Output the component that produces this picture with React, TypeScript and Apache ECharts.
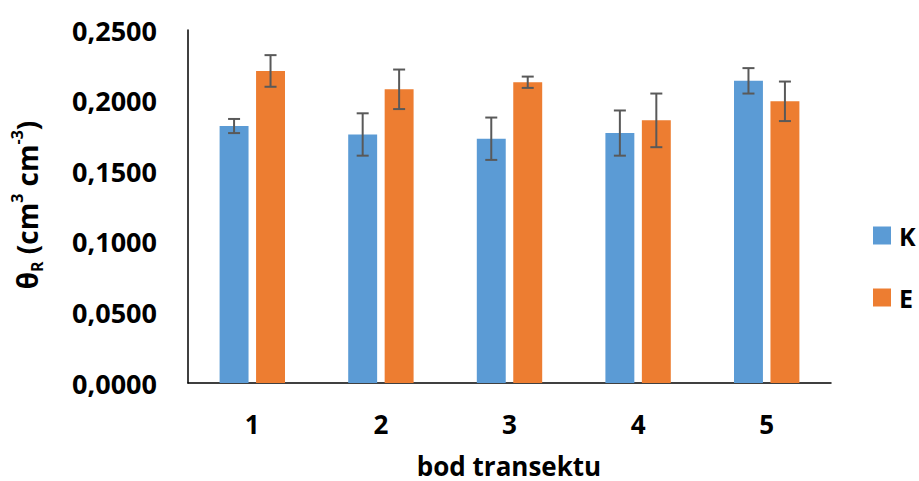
import React, { useEffect, useRef } from "react";
import * as echarts from "echarts";

// Transect points and residual water content (θR) with standard deviations
const categories = ["1", "2", "3", "4", "5"];
const seriesNames = ["K", "E"];
const valuesK = [0.182, 0.176, 0.173, 0.177, 0.214];
const valuesE = [0.221, 0.208, 0.213, 0.186, 0.1995];
const errorsK = [0.005, 0.015, 0.015, 0.016, 0.009];
const errorsE = [0.0112, 0.014, 0.004, 0.019, 0.014];
const yTicks = { min: 0, max: 0.25, interval: 0.05 };

const FONT = "'Open Sans', sans-serif";
const BLUE = "#5B9BD5";
const ORANGE = "#ED7D31";
const BAR_WIDTH = 0.225; // share of the category band
const BAR_GAP = 0.26; // share of one bar width

function errorBarSeries(values: number[], errors: number[], side: number) {
  return {
    type: "custom",
    name: "err" + side,
    silent: true,
    z: 5,
    encode: { x: 0, y: 1 },
    data: values.map((v, i) => [i, v, errors[i]]),
    renderItem: (params: any, api: any) => {
      const idx = api.value(0);
      const val = api.value(1);
      const err = api.value(2);
      const band = api.size([1, 0])[0];
      const w = band * BAR_WIDTH;
      const offset = side * (w * (1 + BAR_GAP)) / 2;
      const top = api.coord([idx, val + err]);
      const bottom = api.coord([idx, val - err]);
      const x = top[0] + offset;
      const cap = 6;
      const style = { stroke: "#595959", lineWidth: 2 };
      return {
        type: "group",
        children: [
          { type: "line", shape: { x1: x, y1: top[1], x2: x, y2: bottom[1] }, style },
          { type: "line", shape: { x1: x - cap, y1: top[1], x2: x + cap, y2: top[1] }, style },
          { type: "line", shape: { x1: x - cap, y1: bottom[1], x2: x + cap, y2: bottom[1] }, style },
        ],
      };
    },
  };
}

export default function App() {
  const ref = useRef<HTMLDivElement>(null);

  useEffect(() => {
    if (!ref.current) return;
    const chart = echarts.init(ref.current, null, { renderer: "svg" });
    chart.setOption({
      animation: false,
      backgroundColor: "#ffffff",
      grid: { left: 188, right: 88, top: 30, bottom: 98, containLabel: false },
      legend: {
        data: seriesNames,
        orient: "vertical",
        left: 873,
        top: 223,
        padding: 0,
        itemWidth: 18,
        itemHeight: 18,
        itemGap: 37,
        icon: "rect",
        selectedMode: false,
        textStyle: {
          fontFamily: FONT,
          fontWeight: "bold",
          fontSize: 25,
          color: "#000",
          lineHeight: 18,
          padding: [0, 0, 0, 3],
        },
      },
      xAxis: {
        type: "category",
        data: categories,
        axisLine: { show: true, lineStyle: { color: "#000", width: 1.5 } },
        axisTick: { show: false },
        axisLabel: {
          margin: 28,
          fontFamily: FONT,
          fontWeight: "bold",
          fontSize: 26,
          color: "#000",
        },
        splitLine: { show: false },
      },
      yAxis: {
        type: "value",
        min: yTicks.min,
        max: yTicks.max,
        interval: yTicks.interval,
        axisLine: { show: true, lineStyle: { color: "#000", width: 1.5 } },
        axisTick: { show: false },
        splitLine: { show: false },
        axisLabel: {
          margin: 31,
          fontFamily: FONT,
          fontWeight: "bold",
          fontSize: 27,
          color: "#000",
          formatter: (v: number) => v.toFixed(4).replace(".", ","),
        },
      },
      series: [
        {
          name: "K",
          type: "bar",
          data: valuesK,
          barWidth: BAR_WIDTH * 100 + "%",
          barGap: BAR_GAP * 100 + "%",
          itemStyle: { color: BLUE },
        },
        {
          name: "E",
          type: "bar",
          data: valuesE,
          barWidth: BAR_WIDTH * 100 + "%",
          barGap: BAR_GAP * 100 + "%",
          itemStyle: { color: ORANGE },
        },
        errorBarSeries(valuesK, errorsK, -1),
        errorBarSeries(valuesE, errorsE, 1),
      ],
      graphic: [
        {
          type: "text",
          x: 27,
          y: 205,
          rotation: Math.PI / 2,
          style: {
            text: "{a|θ}{sub|R}{a| (cm}{sup|3}{a| cm}{sup|-3}{a|)}",
            align: "center",
            verticalAlign: "middle",
            fill: "#000",
            rich: {
              a: { fontFamily: FONT, fontWeight: "bold", fontSize: 28, lineHeight: 36, fill: "#000" },
              sub: { fontFamily: FONT, fontWeight: "bold", fontSize: 16, lineHeight: 36, verticalAlign: "bottom", padding: [14, 0, 0, 0], fill: "#000" },
              sup: { fontFamily: FONT, fontWeight: "bold", fontSize: 16, lineHeight: 36, verticalAlign: "top", padding: [0, 0, 12, 0], fill: "#000" },
            },
          },
        },
        {
          type: "text",
          x: 509,
          y: 466,
          style: {
            text: "bod transektu",
            align: "center",
            verticalAlign: "middle",
            fontFamily: FONT,
            fontWeight: "bold",
            fontSize: 26,
            lineHeight: 24,
            fill: "#000",
          },
        },
      ],
    });
    return () => chart.dispose();
  }, []);

  return <div ref={ref} style={{ width: 919, height: 481, position: "absolute", left: 0, top: 0 }} />;
}
